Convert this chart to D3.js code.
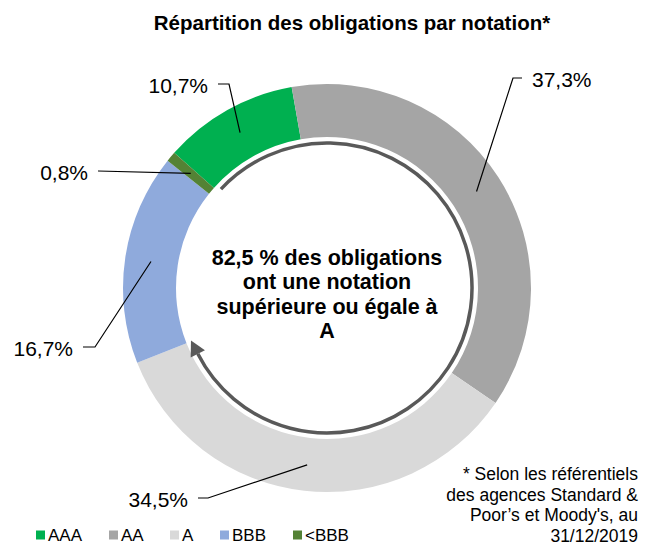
<!DOCTYPE html>
<html>
<head>
<meta charset="utf-8">
<script src="https://cdn.jsdelivr.net/npm/d3@7"></script>
<style>
  body { margin: 0; background: #fff; }
  svg { font-family: "Liberation Sans", Arial, sans-serif; }
</style>
</head>
<body>
<div id="chart"></div>
<script>
// data
var ratings = ["AAA", "AA", "A", "BBB", "<BBB"];
var shares = [10.7, 37.3, 34.5, 16.7, 0.8];
var labels = ["10,7%", "37,3%", "34,5%", "16,7%", "0,8%"];
var colors = ["#00b050", "#a5a5a5", "#d9d9d9", "#8faadc", "#548235"];
var centerText = ["82,5 % des obligations", "ont une notation", "supérieure ou égale à", "A"];
var noteText = ["* Selon les référentiels", "des agences Standard &", "Poor’s et Moody's, au", "31/12/2019"];

var width = 649, height = 547;
var cx = 327, cy = 288;
var outerR = 204, innerR = 151;
var rad = Math.PI / 180;
var start = -48.5 * rad;

// label text placement (x, y, anchor) and elbow end
var labelPos = [
  {x: 208, y: 86, anchor: "end", ex: 229},
  {x: 532, y: 80, anchor: "start", ex: 513},
  {x: 188, y: 500, anchor: "end", ex: 208},
  {x: 73, y: 349, anchor: "end", ex: 95},
  {x: 88, y: 173, anchor: "end", ex: 98}
];

var svg = d3.select("#chart").append("svg")
    .attr("width", width)
    .attr("height", height);

svg.append("text")
    .attr("x", 352).attr("y", 30)
    .attr("text-anchor", "middle")
    .style("font-size", "20.5px")
    .style("font-weight", "bold")
    .text("Répartition des obligations par notation*");

var pie = d3.pie().sort(null).startAngle(start).endAngle(start + 2 * Math.PI);
var arcs = pie(shares);

var arc = d3.arc().innerRadius(innerR).outerRadius(outerR);
var g = svg.append("g").attr("transform", "translate(" + cx + "," + cy + ")");

g.selectAll("path.slice")
    .data(arcs)
  .enter().append("path")
    .attr("class", "slice")
    .attr("d", arc)
    .attr("fill", function(d, i) { return colors[i]; });

// leader lines
var lineArc = d3.arc().innerRadius(178).outerRadius(178);
arcs.forEach(function(d, i) {
  var c = lineArc.centroid(d);
  var p = labelPos[i];
  var ly = p.y - 2 - cy;
  var lx0 = (p.anchor == "end" ? p.x + 10 : p.x - 10) - cx;
  g.append("polyline")
      .attr("points", [[lx0, ly], [p.ex - cx, ly], c].map(function(q) { return q.join(","); }).join(" "))
      .attr("fill", "none")
      .attr("stroke", "#000")
      .attr("stroke-width", 1.2);
  svg.append("text")
      .attr("x", p.x).attr("y", p.y)
      .attr("dy", "0.35em")
      .attr("text-anchor", p.anchor)
      .style("font-size", "21px")
      .text(labels[i]);
});

// arrow around AAA + AA + A
var arrowR = 145;
var a0 = start + 1.5 * rad;
var a1 = 243 * rad;
var arrowArc = d3.arc().innerRadius(arrowR).outerRadius(arrowR).startAngle(a0).endAngle(a1);
g.append("path")
    .attr("d", arrowArc())
    .attr("fill", "none")
    .attr("stroke", "#595959")
    .attr("stroke-width", 3.5);

// arrow head at the end, pointing in the clockwise direction
var ex = arrowR * Math.sin(a1), ey = -arrowR * Math.cos(a1);
var tx = Math.cos(a1), ty = Math.sin(a1); // tangent (clockwise)
var nx = Math.sin(a1), ny = -Math.cos(a1);
var hl = 15, hw = 8;
g.append("path")
    .attr("d", "M" + (ex + tx * hl) + "," + (ey + ty * hl) +
               "L" + (ex + nx * hw) + "," + (ey + ny * hw) +
               "L" + (ex - nx * hw) + "," + (ey - ny * hw) + "Z")
    .attr("fill", "#595959");

// center text
g.selectAll("text.center")
    .data(centerText)
  .enter().append("text")
    .attr("class", "center")
    .attr("x", 0)
    .attr("y", function(d, i) { return -31 + i * 24.5; })
    .attr("dy", "0.35em")
    .attr("text-anchor", "middle")
    .style("font-size", "21.5px")
    .style("font-weight", "bold")
    .text(function(d) { return d; });

// footnote
svg.selectAll("text.note")
    .data(noteText)
  .enter().append("text")
    .attr("class", "note")
    .attr("x", 638)
    .attr("y", function(d, i) { return 474 + i * 20.5; })
    .attr("dy", "0.35em")
    .attr("text-anchor", "end")
    .style("font-size", "17.5px")
    .text(function(d) { return d; });

// legend
var legendX = [36, 109, 170, 220, 293];
var legend = svg.selectAll("g.legend")
    .data(ratings)
  .enter().append("g")
    .attr("class", "legend")
    .attr("transform", function(d, i) { return "translate(" + legendX[i] + ",535)"; });
legend.append("rect")
    .attr("x", 0).attr("y", -4.5)
    .attr("width", 9).attr("height", 9)
    .attr("fill", function(d, i) { return colors[i]; });
legend.append("text")
    .attr("x", 12).attr("y", 0)
    .attr("dy", "0.35em")
    .style("font-size", "17px")
    .text(function(d) { return d; });
</script>
</body>
</html>
